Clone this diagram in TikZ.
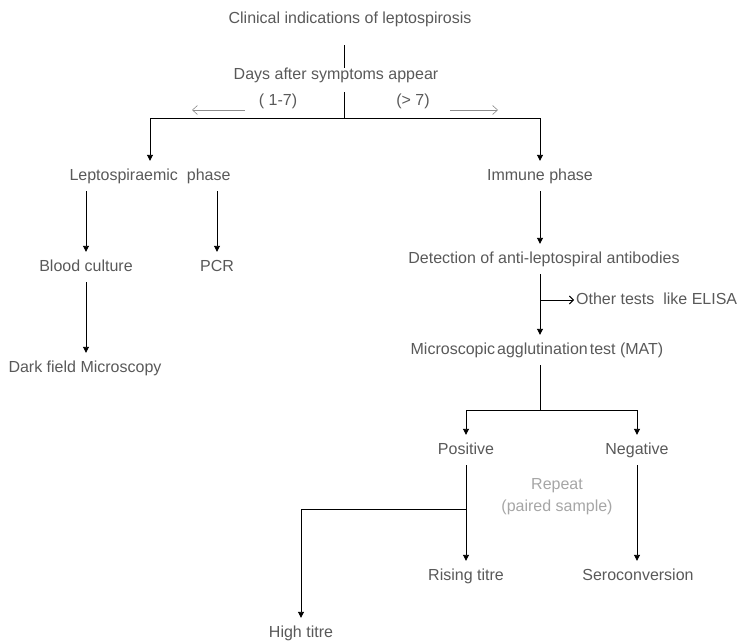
\documentclass[tikz,border=0pt]{standalone}
\usepackage{fontspec}
\setmainfont{Liberation Sans}
\usetikzlibrary{arrows.meta}
\definecolor{txtgray}{HTML}{595959}
\definecolor{notegray}{HTML}{A6A6A6}
\definecolor{arrgray}{HTML}{8C8C8C}

\begin{document}
\begin{tikzpicture}[x=1pt,y=-1pt,
  lbl/.style={text=txtgray,font=\fontsize{16}{22}\selectfont,inner xsep=2pt,inner ysep=8pt,text height=11pt,text depth=3pt},
  conn/.style={-{Triangle[length=6pt,width=6pt]},line width=0.9pt},
  plain/.style={line width=0.9pt},
  daysarrow/.style={-{Straight Barb[length=5pt,width=9pt]},draw=arrgray,line width=0.6pt},
  sidearrow/.style={-{Straight Barb[length=4pt,width=8pt]},line width=0.9pt}]
\useasboundingbox (0,0) rectangle (739,642);

% top
\node[lbl] (title) at (350,20) {Clinical indications of leptospirosis};
\node[lbl,inner ysep=0pt] (days) at (336,75) {Days after symptoms appear};
\node[lbl] (early) at (278,102) {( 1-7)};
\node[lbl] (late) at (413,102) {(> 7)};
\coordinate (hub) at (344,118);
\coordinate (earlyend) at (192,110);
\coordinate (lateend) at (498,110);

\draw[plain,shorten <=10pt] (hub |- title.south) -- (hub |- days.north);
\draw[plain,shorten <=10pt] (hub |- days.south) -- (hub);
\draw[daysarrow,shorten <=12pt] (early.west |- earlyend) -- (earlyend);
\draw[daysarrow,shorten <=18pt] (late.east |- lateend) -- (lateend);

% leptospiraemic phase
\node[lbl] (lepto) at (150,176) {Leptospiraemic\ \ phase};
\node[lbl] (blood) at (86,267) {Blood culture};
\node[lbl] (pcr) at (217,267) {PCR};
\node[lbl] (dark) at (85,368) {Dark field Microscopy};

\draw[conn] (hub) -| (lepto.north);
\draw[conn] (blood |- lepto.south) -- (blood);
\draw[conn] (pcr |- lepto.south) -- (pcr);
\draw[conn] (blood) -- (blood |- dark.north);

% immune phase
\node[lbl] (immune) at (540,176) {Immune phase};
\node[lbl] (detect) at (544,259) {Detection of anti-leptospiral antibodies};
\node[lbl,anchor=west] (elisa) at (574,300) {Other tests\ \ like ELISA};
\node[lbl] (mat) at (537,350) {Microscopic\hspace{2pt}agglutination\hspace{2pt}test (MAT)};
\coordinate (split) at (540,410);

\draw[conn] (hub) -| (immune.north);
\draw[conn] (immune) -- (immune |- detect.north);
\draw[conn] (immune |- detect.south) -- (immune |- mat.north);
\draw[sidearrow] (immune |- elisa) -- (elisa.west);
\draw[plain] (immune |- mat.south) -- (split);

% MAT result
\node[lbl] (pos) at (466,450) {Positive};
\node[lbl] (neg) at (637,450) {Negative};
\node[lbl,text=notegray,align=center,text height=,text depth=] (rep) at (557,497) {Repeat\\(paired sample)};
\node[lbl] (rising) at (466,576) {Rising titre};
\node[lbl] (sero) at (638,576) {Seroconversion};
\node[lbl] (high) at (301,633) {High titre};
\coordinate (branch) at (466,509);

\draw[conn] (split) -| (pos.north);
\draw[conn] (split) -| (neg.north);
\draw[conn] (pos) -- (pos |- rising.north);
\draw[conn] (branch) -| (high.north);
\draw[conn] (neg) -- (neg |- sero.north);

\end{tikzpicture}
\end{document}
